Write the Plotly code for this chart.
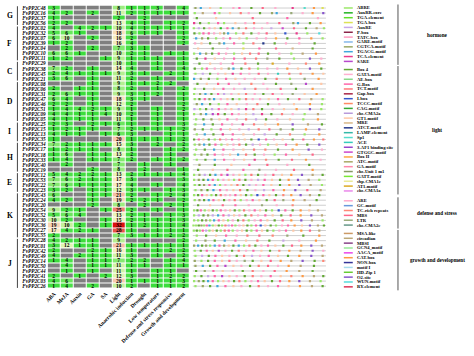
import plotly.graph_objects as go

W, H = 474, 356

columns = ["ABA", "MeJA", "Auxin", "GA", "SA", "Light", "Anaerobic induction", "Drought",
           "Low temperature", "Defense and stress responsive", "Growth and development"]

groups = ["G", "F", "C", "D", "I", "H", "E", "K", "J"]
group_sizes = [4, 7, 4, 8, 4, 6, 4, 9, 10]

genes = ["48", "16", "37", "56",
         "02", "32", "07", "39", "04", "10", "11",
         "29", "38", "45", "21",
         "08", "06", "31", "47", "46", "51", "09", "05",
         "25", "15", "13", "35",
         "34", "17", "18", "33", "40", "19",
         "12", "53", "22", "23",
         "43", "24", "20", "54", "52", "30", "36", "27", "55",
         "28", "01", "42", "49", "14", "50", "44", "41", "03", "26"]

counts = [
    [3, 0, 0, 0, 0, 8, 1, 1, 3, 0, 4],
    [4, 2, 0, 2, 0, 11, 2, 1, 1, 1, 1],
    [1, 0, 0, 0, 0, 2, 0, 2, 0, 0, 0],
    [2, 2, 0, 0, 0, 13, 4, 1, 0, 1, 2],
    [4, 0, 4, 2, 1, 10, 4, 1, 1, 1, 1],
    [5, 6, 1, 0, 0, 18, 6, 1, 1, 0, 1],
    [6, 10, 0, 2, 0, 16, 2, 0, 0, 0, 2],
    [1, 2, 0, 0, 0, 16, 4, 0, 0, 0, 2],
    [0, 2, 0, 2, 0, 7, 3, 1, 0, 0, 0],
    [6, 6, 1, 0, 0, 10, 2, 1, 0, 1, 1],
    [1, 2, 0, 0, 1, 9, 1, 1, 1, 0, 1],
    [0, 0, 0, 0, 0, 10, 1, 0, 1, 0, 1],
    [7, 2, 0, 1, 0, 14, 4, 0, 1, 0, 4],
    [2, 4, 1, 1, 1, 9, 3, 1, 0, 2, 1],
    [3, 6, 0, 1, 0, 11, 2, 0, 1, 0, 1],
    [0, 0, 0, 1, 0, 9, 1, 1, 2, 2, 0],
    [2, 0, 1, 1, 0, 8, 2, 0, 1, 0, 2],
    [2, 6, 1, 1, 0, 9, 3, 1, 2, 0, 1],
    [6, 4, 0, 1, 0, 18, 3, 1, 0, 0, 1],
    [2, 2, 0, 1, 0, 12, 2, 0, 0, 0, 2],
    [1, 4, 4, 2, 1, 9, 1, 0, 1, 0, 2],
    [4, 4, 1, 1, 4, 10, 2, 0, 1, 0, 1],
    [4, 1, 1, 1, 0, 11, 1, 0, 1, 0, 1],
    [2, 3, 0, 2, 1, 6, 1, 0, 1, 0, 3],
    [1, 2, 1, 1, 0, 7, 2, 1, 1, 1, 2],
    [4, 1, 1, 0, 1, 6, 3, 0, 0, 1, 1],
    [1, 0, 0, 0, 0, 20, 1, 1, 1, 1, 2],
    [7, 2, 1, 1, 1, 15, 3, 0, 2, 0, 2],
    [1, 2, 1, 1, 0, 8, 1, 0, 0, 1, 2],
    [1, 6, 0, 1, 1, 13, 2, 0, 0, 1, 0],
    [1, 4, 0, 1, 1, 7, 2, 0, 1, 1, 2],
    [0, 2, 0, 0, 0, 7, 0, 1, 0, 1, 0],
    [0, 0, 0, 2, 0, 8, 0, 2, 0, 0, 1],
    [5, 4, 2, 2, 1, 13, 2, 1, 1, 1, 4],
    [7, 6, 2, 1, 1, 17, 3, 0, 0, 0, 3],
    [7, 6, 1, 1, 1, 17, 4, 0, 1, 0, 4],
    [3, 2, 0, 1, 1, 12, 3, 1, 0, 1, 3],
    [6, 0, 0, 1, 1, 21, 2, 0, 1, 2, 4],
    [4, 2, 0, 1, 0, 19, 2, 2, 1, 0, 2],
    [0, 0, 0, 2, 0, 8, 0, 2, 0, 2, 1],
    [9, 2, 1, 0, 1, 25, 2, 0, 1, 0, 1],
    [5, 6, 4, 0, 0, 13, 2, 1, 0, 1, 3],
    [10, 2, 0, 0, 1, 15, 2, 1, 1, 1, 3],
    [19, 10, 2, 0, 1, 32, 1, 2, 1, 1, 4],
    [17, 4, 2, 1, 0, 28, 1, 0, 1, 1, 1],
    [2, 0, 0, 0, 0, 7, 3, 1, 1, 2, 2],
    [4, 2, 1, 1, 0, 9, 0, 0, 0, 0, 2],
    [3, 12, 1, 1, 0, 21, 1, 1, 1, 1, 1],
    [2, 0, 0, 2, 1, 16, 1, 0, 1, 2, 2],
    [4, 0, 2, 1, 1, 11, 3, 0, 1, 0, 2],
    [1, 4, 0, 1, 1, 7, 2, 2, 0, 1, 4],
    [0, 4, 0, 1, 1, 11, 1, 1, 0, 1, 1],
    [0, 1, 0, 1, 0, 11, 1, 0, 1, 1, 0],
    [2, 0, 1, 0, 2, 12, 3, 0, 1, 2, 2],
    [4, 6, 0, 0, 0, 20, 1, 1, 1, 1, 3],
    [1, 4, 0, 2, 0, 10, 2, 0, 1, 1, 2],
]

motif_groups = ["hormone", "light", "defense and stress", "growth and development"]
motif_names = [
    ["ABRE", "AuxRR-core", "TGA-element", "TGA-box", "AuxRE", "P-box", "TATC-box", "GARE-motif",
     "CGTCA-motif", "TGACG-motif", "TCA-element", "SARE"],
    ["Box 4", "GATA-motif", "AE-box", "G-Box", "TCT-motif", "Gap-box", "I-box", "TCCC-motif",
     "CAG-motif", "chs-CMA2a", "GT1-motif", "MRE", "ATCT-motif", "LAMP-element", "Sp1", "ACE",
     "3-AF1 binding site", "GTGGC-motif", "Box II", "ATC-motif", "GA-motif", "chs-Unit 1 m1",
     "GATT-motif", "sbp-CMA1c", "AT1-motif", "chs-CMA1a"],
    ["ARE", "GC-motif", "TC-rich repeats", "MBS", "LTR", "chs-CMA2c"],
    ["MSA-like", "circadian", "MBSI", "GCN4_motif", "AACA_motif", "CAT-box", "NON-box", "motif I",
     "HD-Zip 1", "O2-site", "WUN-motif", "RY-element"],
]
motif_colors = [
    ["#9be86a", "#22b322", "#5fe02a", "#dde255", "#c8a8ea", "#8a2348", "#ff9cc0", "#86b8ea",
     "#9aa866", "#3fa8dc", "#ea3a8c", "#b848cc"],
    ["#62a834", "#ffb0d0", "#8ad88a", "#ff66aa", "#ff7a7a", "#a82446", "#3456cc", "#ff8a66",
     "#34a834", "#b89ada", "#ffc8a8", "#d8b888", "#24388a", "#34b8a8", "#56dccc", "#34ccbc",
     "#9846cc", "#cc46cc", "#ffa844", "#a8a866", "#ff88aa", "#889966", "#78e834", "#eaea98",
     "#dcaa24", "#ea88ea"],
    ["#ffaacc", "#6898dc", "#ff8878", "#ff6688", "#98aa78", "#669888"],
    ["#cc9a66", "#bca878", "#884488", "#98ea98", "#ea46ea", "#ff9a44", "#343498", "#a8dcec",
     "#66cc34", "#8856cc", "#56dcdc", "#dc3456"],
]

# cis-element sites per gene: (position in bp, motif index in flattened legend list)
sites = [
    [(40, 8), (120, 9), (260, 22), (420, 0), (610, 38), (700, 15), (880, 12), (1050, 41), (1240, 13), (1500, 10), (1680, 26), (1820, 49), (1950, 3)],
    [(30, 0), (150, 45), (330, 15), (400, 0), (560, 22), (720, 16), (840, 38), (1010, 12), (1190, 8), (1260, 9), (1480, 42), (1650, 13), (1800, 49), (1960, 53)],
    [(60, 12), (350, 22), (900, 41), (1420, 15), (1880, 38)],
    [(20, 10), (110, 12), (240, 0), (380, 15), (470, 0), (640, 22), (790, 38), (920, 16), (1120, 13), (1300, 41), (1510, 8), (1580, 9), (1760, 12), (1920, 49)],
    [(15, 0), (90, 4), (170, 12), (250, 38), (330, 22), (420, 1), (520, 15), (600, 9), (690, 8), (800, 16), (920, 38), (1040, 13), (1180, 4), (1350, 29), (1520, 41), (1700, 12), (1860, 45), (1970, 0)],
    [(25, 12), (100, 0), (160, 15), (240, 15), (320, 38), (410, 22), (470, 8), (530, 9), (650, 0), (760, 16), (880, 12), (990, 38), (1110, 41), (1240, 22), (1390, 18), (1560, 10), (1720, 0), (1900, 54)],
    [(50, 9), (140, 8), (230, 12), (350, 0), (460, 38), (560, 15), (700, 22), (810, 0), (960, 13), (1100, 38), (1250, 30), (1420, 12), (1600, 15), (1780, 49), (1950, 0)],
    [(35, 38), (130, 22), (260, 12), (400, 8), (470, 9), (620, 15), (760, 0), (910, 16), (1060, 24), (1230, 12), (1400, 38), (1600, 13), (1830, 12)],
    [(80, 22), (300, 12), (520, 38), (760, 3), (1000, 15), (1250, 41), (1500, 23), (1800, 12)],
    [(20, 0), (110, 9), (200, 8), (290, 12), (390, 15), (500, 38), (620, 0), (740, 22), (860, 16), (990, 41), (1130, 12), (1300, 13), (1480, 0), (1650, 45), (1850, 49)],
    [(60, 12), (190, 10), (330, 22), (470, 38), (620, 15), (780, 41), (950, 16), (1120, 42), (1300, 12), (1520, 0), (1760, 53), (1930, 13)],
    [(100, 12), (260, 22), (420, 38), (600, 15), (790, 16), (980, 12), (1200, 36), (1450, 13), (1700, 40), (1900, 49)],
    [(30, 12), (140, 0), (210, 15), (330, 38), (430, 22), (540, 8), (610, 9), (730, 12), (850, 16), (980, 0), (1120, 38), (1270, 13), (1420, 49), (1580, 22), (1760, 53), (1930, 12)],
    [(40, 0), (150, 4), (260, 12), (380, 38), (490, 22), (600, 10), (720, 15), (850, 13), (990, 41), (1130, 38), (1280, 27), (1450, 16), (1620, 40), (1800, 49), (1960, 22)],
    [(20, 9), (120, 8), (240, 12), (370, 0), (500, 15), (640, 22), (780, 38), (930, 13), (1090, 12), (1260, 16), (1460, 0), (1680, 42), (1890, 49)],
    [(70, 12), (210, 22), (380, 41), (540, 15), (700, 38), (880, 40), (1060, 13), (1250, 12), (1480, 42), (1700, 11), (1930, 22)],
    [(30, 0), (170, 12), (320, 22), (460, 15), (620, 38), (780, 4), (940, 16), (1120, 13), (1320, 41), (1550, 12), (1800, 49)],
    [(20, 0), (110, 8), (190, 9), (280, 12), (380, 15), (470, 4), (580, 38), (690, 22), (800, 16), (930, 38), (1060, 12), (1200, 41), (1340, 13), (1500, 42), (1680, 22), (1860, 49)],
    [(30, 0), (100, 12), (180, 15), (250, 8), (320, 9), (420, 38), (520, 22), (600, 12), (700, 0), (800, 16), (900, 13), (1010, 38), (1140, 22), (1280, 15), (1430, 12), (1600, 41), (1780, 45), (1950, 0)],
    [(60, 8), (140, 9), (260, 12), (390, 0), (520, 15), (660, 22), (810, 38), (970, 16), (1130, 12), (1300, 13), (1520, 22), (1760, 49), (1940, 0)],
    [(25, 4), (110, 0), (200, 12), (290, 4), (390, 15), (490, 38), (580, 22), (690, 4), (800, 10), (910, 16), (1040, 12), (1200, 13), (1370, 22), (1560, 49), (1760, 53), (1930, 0)],
    [(20, 0), (120, 8), (200, 9), (300, 11), (380, 10), (480, 12), (590, 15), (690, 38), (800, 22), (910, 4), (1040, 10), (1180, 12), (1340, 16), (1500, 13), (1680, 0), (1880, 45)],
    [(50, 0), (160, 12), (280, 8), (400, 22), (520, 15), (660, 38), (800, 16), (950, 4), (1100, 12), (1270, 13), (1460, 22), (1660, 0), (1880, 49)],
    [(40, 0), (170, 9), (300, 12), (440, 15), (590, 38), (750, 10), (920, 16), (1090, 22), (1280, 49), (1500, 53), (1730, 45), (1940, 12)],
    [(30, 8), (150, 12), (280, 0), (420, 15), (560, 22), (700, 38), (840, 4), (990, 16), (1150, 41), (1320, 42), (1500, 12), (1700, 49), (1900, 53)],
    [(60, 0), (180, 9), (310, 12), (450, 10), (600, 15), (760, 22), (920, 38), (1080, 4), (1260, 12), (1460, 40), (1680, 0), (1900, 49)],
    [(20, 12), (90, 15), (160, 22), (240, 12), (330, 0), (410, 16), (500, 13), (590, 15), (690, 38), (780, 22), (880, 12), (990, 18), (1100, 15), (1220, 13), (1350, 22), (1500, 12), (1660, 41), (1820, 49), (1960, 16)],
    [(30, 0), (100, 8), (170, 9), (250, 12), (340, 15), (430, 0), (520, 22), (610, 38), (700, 16), (800, 12), (900, 4), (1010, 13), (1130, 0), (1260, 22), (1400, 15), (1560, 49), (1720, 12), (1900, 53)],
    [(50, 0), (180, 12), (320, 9), (460, 15), (610, 38), (760, 22), (920, 16), (1090, 40), (1280, 12), (1500, 49), (1740, 53), (1940, 13)],
    [(30, 0), (130, 8), (220, 12), (330, 15), (450, 38), (560, 22), (680, 9), (800, 16), (930, 12), (1070, 13), (1230, 0), (1400, 15), (1600, 22), (1800, 41)],
    [(60, 0), (190, 12), (330, 9), (470, 15), (620, 38), (770, 22), (930, 10), (1100, 40), (1290, 12), (1490, 41), (1700, 49), (1920, 13)],
    [(100, 8), (330, 12), (580, 22), (850, 15), (1120, 41), (1420, 38), (1750, 12)],
    [(80, 12), (300, 22), (520, 41), (760, 15), (1000, 42), (1250, 13), (1520, 41), (1800, 49)],
    [(20, 0), (100, 8), (180, 4), (260, 12), (340, 9), (430, 15), (520, 11), (610, 38), (700, 22), (790, 0), (880, 16), (980, 12), (1090, 13), (1210, 41), (1340, 22), (1480, 49), (1640, 53), (1800, 45), (1950, 12)],
    [(20, 0), (90, 8), (160, 12), (230, 9), (300, 15), (380, 0), (460, 38), (540, 22), (620, 0), (700, 16), (790, 12), (880, 13), (980, 4), (1080, 15), (1190, 22), (1310, 12), (1440, 49), (1580, 53), (1740, 45), (1900, 0)],
    [(30, 0), (100, 12), (170, 8), (250, 15), (330, 9), (410, 0), (490, 38), (580, 22), (670, 16), (760, 12), (850, 4), (950, 13), (1060, 15), (1180, 22), (1310, 12), (1450, 49), (1600, 53), (1770, 45), (1940, 0)],
    [(40, 0), (130, 8), (220, 12), (310, 9), (410, 15), (510, 38), (610, 22), (710, 16), (820, 12), (940, 13), (1070, 4), (1210, 15), (1370, 49), (1540, 53), (1720, 41), (1920, 45)],
    [(20, 0), (80, 12), (140, 15), (210, 22), (280, 0), (350, 12), (420, 16), (490, 38), (560, 13), (640, 15), (720, 22), (800, 12), (880, 0), (970, 18), (1060, 15), (1150, 22), (1250, 12), (1360, 40), (1480, 49), (1620, 53), (1760, 45), (1900, 12)],
    [(30, 0), (100, 8), (170, 12), (240, 9), (310, 15), (390, 22), (470, 12), (550, 38), (630, 16), (720, 0), (810, 13), (900, 15), (1000, 22), (1110, 12), (1230, 41), (1360, 42), (1510, 49), (1680, 45), (1860, 12)],
    [(80, 12), (260, 22), (450, 41), (640, 15), (840, 38), (1040, 42), (1260, 13), (1500, 40), (1760, 45)],
    [(20, 0), (70, 12), (120, 15), (180, 0), (240, 22), (300, 12), (360, 0), (420, 15), (490, 38), (560, 22), (630, 12), (700, 0), (770, 16), (850, 13), (930, 15), (1010, 22), (1100, 12), (1190, 0), (1290, 18), (1390, 15), (1500, 12), (1620, 49), (1750, 22), (1880, 45)],
    [(20, 0), (90, 4), (160, 12), (230, 8), (300, 4), (380, 9), (460, 15), (540, 4), (620, 22), (700, 38), (790, 12), (880, 16), (980, 13), (1090, 15), (1200, 22), (1330, 12), (1470, 41), (1620, 49), (1780, 53), (1940, 45)],
    [(20, 0), (80, 0), (140, 12), (200, 8), (260, 0), (320, 9), (390, 15), (460, 22), (530, 0), (600, 38), (680, 12), (760, 16), (840, 0), (930, 13), (1020, 15), (1120, 22), (1230, 12), (1350, 41), (1480, 49), (1630, 53), (1790, 45), (1950, 0)],
    [(10, 0), (50, 0), (90, 12), (130, 8), (170, 0), (210, 15), (250, 9), (300, 0), (340, 22), (390, 12), (440, 0), (490, 16), (540, 4), (590, 15), (640, 0), (700, 13), (760, 22), (820, 12), (880, 0), (950, 15), (1020, 18), (1090, 22), (1170, 12), (1250, 0), (1340, 13), (1430, 15), (1530, 49), (1640, 22), (1760, 53), (1880, 45), (1970, 12)],
    [(15, 0), (60, 12), (105, 0), (150, 15), (200, 4), (250, 0), (300, 22), (360, 12), (420, 0), (480, 16), (540, 15), (600, 0), (670, 13), (740, 22), (810, 12), (880, 0), (960, 15), (1040, 22), (1120, 12), (1210, 0), (1300, 13), (1400, 15), (1510, 22), (1630, 49), (1760, 41), (1900, 45)],
    [(60, 0), (200, 12), (350, 22), (500, 15), (660, 38), (820, 16), (1000, 41), (1200, 40), (1420, 42), (1660, 12), (1900, 49)],
    [(50, 0), (190, 8), (330, 12), (480, 9), (640, 15), (800, 22), (970, 16), (1150, 12), (1360, 4), (1600, 13), (1850, 49)],
    [(20, 8), (80, 9), (140, 12), (200, 8), (260, 0), (330, 9), (400, 15), (470, 8), (540, 22), (610, 12), (690, 9), (770, 0), (850, 16), (940, 12), (1030, 13), (1130, 15), (1240, 22), (1360, 12), (1490, 41), (1630, 49), (1780, 53), (1940, 45)],
    [(30, 0), (120, 12), (210, 15), (300, 22), (390, 11), (490, 38), (590, 12), (690, 16), (800, 13), (910, 15), (1030, 22), (1160, 12), (1300, 40), (1450, 49), (1620, 45), (1800, 53), (1960, 38)],
    [(40, 0), (140, 4), (240, 12), (340, 15), (440, 22), (550, 38), (660, 12), (770, 16), (890, 4), (1010, 13), (1140, 15), (1280, 22), (1430, 12), (1600, 49), (1780, 53), (1950, 45)],
    [(30, 8), (130, 0), (230, 12), (330, 15), (440, 22), (550, 41), (660, 13), (780, 42), (900, 12), (1030, 22), (1170, 41), (1320, 49), (1480, 45), (1650, 53), (1830, 12), (1960, 40)],
    [(40, 8), (150, 9), (260, 12), (370, 15), (490, 11), (610, 22), (730, 38), (860, 12), (990, 16), (1130, 41), (1280, 13), (1440, 49), (1620, 45), (1820, 12)],
    [(50, 12), (180, 8), (310, 15), (450, 22), (600, 38), (750, 12), (900, 16), (1060, 13), (1230, 41), (1410, 49), (1600, 45), (1800, 12)],
    [(30, 0), (130, 12), (230, 4), (330, 15), (440, 11), (550, 22), (660, 38), (780, 12), (900, 16), (1030, 13), (1170, 15), (1320, 22), (1480, 40), (1650, 49), (1820, 45), (1960, 12)],
    [(20, 0), (90, 8), (160, 12), (230, 9), (300, 15), (380, 0), (460, 22), (540, 38), (620, 12), (700, 16), (790, 0), (880, 13), (980, 15), (1080, 22), (1190, 12), (1310, 41), (1450, 49), (1600, 53), (1760, 45), (1920, 0)],
    [(40, 0), (150, 8), (260, 12), (370, 9), (490, 15), (610, 22), (730, 38), (860, 12), (990, 16), (1130, 13), (1280, 15), (1440, 22), (1610, 49), (1790, 45), (1950, 12)],
]
promoter_length = 2000

# ---------------------------------------------------------------- layout helpers
def px_x(p):
    return p / W


def px_y(p):
    return 1 - p / H


n = len(genes)
FONT = "Liberation Serif"
GRAY = "#7f7f7f"

hm_top, hm_bot = 4.5, 288.5
hm_left, hm_right = 45, 188

z_val = [[(v if v > 0 else None) for v in row] for row in counts]
z_zero = [[(1 if v == 0 else None) for v in row] for row in counts]
txt = [[(str(v) if v > 0 else "") for v in row] for row in counts]

fig = go.Figure()
fig.add_trace(go.Heatmap(z=z_zero, x=list(range(len(columns))), y=list(range(n)),
                         colorscale=[[0, GRAY], [1, GRAY]], showscale=False,
                         xgap=1, ygap=1, hoverinfo="skip"))
fig.add_trace(go.Heatmap(
    z=z_val, x=list(range(len(columns))), y=list(range(n)), zmin=1, zmax=32,
    colorscale=[[0, "#3cdc3c"], [0.13, "#50e24c"], [0.25, "#b2ee8e"], [0.38, "#e8f5ba"],
                [0.52, "#f8e9c0"], [0.64, "#f5c0a6"], [0.78, "#ee7e6e"], [1, "#dc1010"]],
    showscale=False, xgap=1, ygap=1, text=txt, texttemplate="%{text}",
    textfont=dict(family=FONT, size=5.5, color="black", weight="bold")))

# promoter lines
lx, ly = [], []
for i in range(n):
    lx += [0, promoter_length, None]
    ly += [i, i, None]
fig.add_trace(go.Scatter(x=lx, y=ly, mode="lines", line=dict(color="#cfcfcf", width=1),
                         xaxis="x2", yaxis="y2", hoverinfo="skip"))

flat_colors = [c for grp in motif_colors for c in grp]
flat_names = [m for grp in motif_names for m in grp]
mx, my, mc, mt = [], [], [], []
for i, row in enumerate(sites):
    for pos, k in row:
        mx.append(pos)
        my.append(i)
        mc.append(flat_colors[k])
        mt.append(flat_names[k])
fig.add_trace(go.Scatter(x=mx, y=my, mode="markers", text=mt,
                         marker=dict(symbol="square", size=2.2, color=mc, line=dict(width=0)),
                         xaxis="x2", yaxis="y2"))

shapes, annotations = [], []

# left group brackets and letters
start = 0
for g, s in zip(groups, group_sizes):
    shapes.append(dict(type="line", xref="paper", yref="y", x0=px_x(14.5), x1=px_x(14.5),
                       y0=start - 0.35, y1=start + s - 0.65, line=dict(color="#444", width=1)))
    annotations.append(dict(text="<b>%s</b>" % g, xref="paper", yref="y", x=px_x(7),
                            y=start + (s - 1) / 2, showarrow=False, xanchor="center",
                            font=dict(family=FONT, size=7.5, color="black")))
    start += s

# legend
step, gaps = 4.87, [0, 3.3, 5.0, 3.5]
ypos = 7.0
for gi, (gname, names, cols) in enumerate(zip(motif_groups, motif_names, motif_colors)):
    if gi > 0:
        ypos += step + gaps[gi]
    first = ypos
    for j, (nm, c) in enumerate(zip(names, cols)):
        if j > 0:
            ypos += step
        shapes.append(dict(type="line", xref="paper", yref="paper", x0=px_x(343), x1=px_x(352),
                           y0=px_y(ypos), y1=px_y(ypos), line=dict(color=c, width=1.5)))
        annotations.append(dict(text="<b>%s</b>" % nm, xref="paper", yref="paper", x=px_x(354),
                                y=px_y(ypos), showarrow=False, xanchor="left", yanchor="middle",
                                font=dict(family=FONT, size=4.6, color="black")))
    last = ypos
    shapes.append(dict(type="line", xref="paper", yref="paper", x0=px_x(397.5), x1=px_x(397.5),
                       y0=px_y(first - 3.5), y1=px_y(last + 3.5), line=dict(color="#555", width=1)))
    annotations.append(dict(text="<b>%s</b>" % gname, xref="paper", yref="paper", x=px_x(437),
                            y=px_y((first + last) / 2), showarrow=False, xanchor="center",
                            yanchor="middle", font=dict(family=FONT, size=5.2, color="black")))

fig.update_layout(
    width=W, height=H, margin=dict(l=0, r=0, t=0, b=0),
    paper_bgcolor="white", plot_bgcolor="white", showlegend=False, hovermode=False,
    shapes=shapes, annotations=annotations,
    xaxis=dict(domain=[px_x(hm_left), px_x(hm_right)], range=[-0.5, len(columns) - 0.5],
               tickmode="array", tickvals=list(range(len(columns))),
               ticktext=["<b>%s</b>" % c for c in columns], tickangle=-45,
               tickfont=dict(family=FONT, size=5.5, color="black"),
               showgrid=False, zeroline=False, showline=False, ticks=""),
    yaxis=dict(domain=[px_y(hm_bot), px_y(hm_top)], range=[n - 0.5, -0.5],
               tickmode="array", tickvals=list(range(n)),
               ticktext=["<b><i>FvPP2C%s</i></b>" % g for g in genes],
               tickfont=dict(family=FONT, size=5.2, color="black"),
               showgrid=False, zeroline=False, showline=False, ticks="", ticklabelstandoff=1),
    xaxis2=dict(domain=[px_x(190), px_x(326)], range=[-15, promoter_length + 15],
                visible=False, anchor="y2"),
    yaxis2=dict(domain=[px_y(hm_bot), px_y(hm_top)], range=[n - 0.5, -0.5],
                visible=False, anchor="x2"),
)

fig.write_html("out.html", config={"displayModeBar": False},
               post_script="document.body.style.margin='0px';")
